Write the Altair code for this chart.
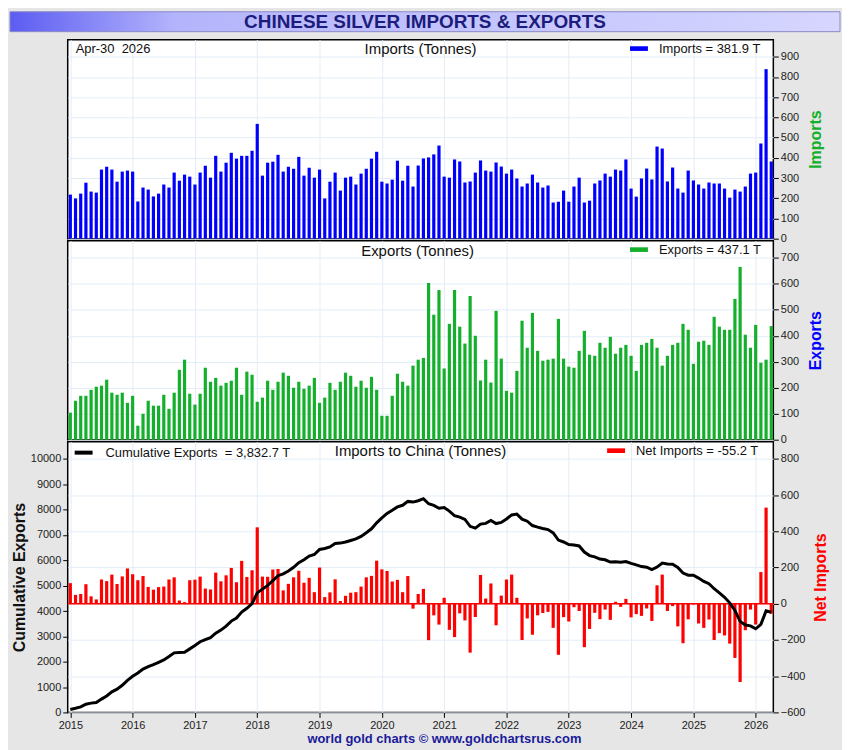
import altair as alt
import pandas as pd

# ---------------- data (monthly, Jan 2015 .. Apr 2026) ----------------
START_YEAR = 2015
imports = [
    218, 199, 223, 277, 233, 228, 342, 356, 342, 282, 332, 337,   # 2015
    332, 184, 253, 243, 209, 223, 268, 253, 327, 287, 317, 307,   # 2016
    268, 327, 361, 302, 410, 332, 376, 425, 396, 410, 410, 435,   # 2017
    568, 312, 376, 381, 415, 332, 356, 346, 405, 312, 351, 302,   # 2018
    342, 199, 282, 327, 238, 302, 307, 268, 322, 346, 396, 430,   # 2019
    282, 273, 292, 386, 287, 361, 258, 362, 397, 402, 417, 461,   # 2020
    307, 302, 392, 382, 278, 283, 327, 387, 337, 332, 377, 357,   # 2021
    322, 342, 298, 258, 273, 317, 278, 253, 263, 179, 183, 238,   # 2022
    183, 258, 302, 179, 188, 273, 288, 322, 307, 342, 337, 392,   # 2023
    248, 208, 298, 347, 293, 456, 446, 283, 352, 248, 228, 337,   # 2024
    288, 268, 248, 278, 273, 273, 248, 203, 243, 233, 258, 322,   # 2025
    327, 471, 839, 381.9,                                         # 2026
]
exports = [
    104, 150, 169, 169, 192, 204, 208, 231, 181, 173, 181, 142,   # 2015
    169, 54, 100, 150, 131, 131, 173, 119, 181, 269, 308, 177,    # 2016
    135, 177, 277, 223, 238, 208, 219, 227, 277, 173, 262, 250,   # 2017
    146, 162, 227, 192, 223, 258, 246, 200, 223, 196, 208, 238,   # 2018
    142, 162, 219, 192, 223, 258, 246, 204, 227, 200, 242, 192,   # 2019
    92, 92, 169, 254, 223, 208, 285, 308, 315, 603, 481, 576,     # 2020
    274, 446, 576, 435, 370, 553, 400, 228, 308, 220, 496, 312,   # 2021
    188, 181, 265, 458, 354, 488, 342, 304, 308, 312, 465, 312,   # 2022
    281, 277, 342, 419, 327, 323, 373, 354, 396, 331, 354, 365,   # 2023
    323, 265, 365, 373, 388, 354, 285, 323, 365, 373, 446, 423,   # 2024
    292, 377, 381, 365, 473, 435, 423, 423, 542, 665, 404, 354,   # 2025
    442, 296, 308, 437.1,                                         # 2026
]
year_ticks = list(range(2015, 2027))
imp_ticks = list(range(0, 901, 100))
exp_ticks = list(range(0, 701, 100))
cum_ticks = list(range(0, 10001, 1000))
net_ticks = list(range(-600, 801, 200))

TITLE = "CHINESE SILVER IMPORTS & EXPORTS"
DATE_TEXT = "Apr-30\u00a0 2026"
FOOTER = "world gold charts \u00a9 www.goldchartsrus.com"
IMP_LABEL = "Imports = 381.9 T"
EXP_LABEL = "Exports = 437.1 T"
CUM_LABEL = "Cumulative Exports\u00a0 = 3,832.7 T"
NET_LABEL = "Net Imports = -55.2 T"

t = [START_YEAR + i / 12 for i in range(len(imports))]
df = pd.DataFrame({"t": t, "imports": imports, "exports": exports})

# ---------------- styling ----------------
W = 709
X_DOMAIN = [2014.958, 2026.283]
GRID = "#e3edf7"
BLUE = "#0000ff"
GREEN = "#14b02c"
RED = "#ff0000"
BG = "#e6e6e6"
RECT_PATH = "M-1,-0.26L1,-0.26L1,0.26L-1,0.26Z"


def x_enc(labels):
    return alt.X(
        "t:Q",
        scale=alt.Scale(domain=X_DOMAIN, nice=False, zero=False, padding=0),
        axis=alt.Axis(values=year_ticks, format="d", title=None, grid=True,
                      gridColor=GRID, gridWidth=1, domain=False, labels=labels,
                      ticks=labels, tickSize=5, tickColor="black",
                      labelFontSize=11, labelColor="#222", labelPadding=2,
                      labelFlush=False),
    )


def y_axis(orient, title, color, values, grid=True, pad=8):
    return alt.Axis(orient=orient, values=values, format="d", title=title,
                    titleColor=color, titleFontSize=16, titleFontWeight="bold",
                    titleAngle=270, titlePadding=pad, grid=grid, gridColor=GRID,
                    gridWidth=1, domain=False, tickSize=5, tickColor="black",
                    labelFontSize=11, labelColor="#222", labelPadding=2,
                    labelFlush=False)


def legend(x, kind="bar"):
    if kind == "bar":
        return alt.Legend(orient="none", legendX=x, legendY=0, title=None,
                          symbolType=RECT_PATH, symbolSize=324,
                          symbolStrokeWidth=0, labelFontSize=13,
                          labelColor="#111", labelOffset=11, padding=0,
                          labelLimit=300)
    return alt.Legend(orient="none", legendX=x, legendY=0, title=None,
                      symbolType="stroke", symbolSize=324, symbolStrokeWidth=4,
                      labelFontSize=13, labelColor="#111", labelOffset=11,
                      padding=0, labelLimit=300)


def text_mark(txt, x, y, size=15, weight="normal", color="#111", align="center"):
    return alt.Chart(pd.DataFrame({"txt": [txt]})).mark_text(
        fontSize=size, fontWeight=weight, color=color, align=align,
        baseline="middle").encode(x=alt.value(x), y=alt.value(y), text="txt:N")


base = alt.Chart(df)

# ---------------- title bar ----------------
grad = {"gradient": "linear", "x1": 0, "x2": 1, "y1": 0, "y2": 0,
        "stops": [{"offset": 0, "color": "#5c5cf2"},
                  {"offset": 0.2, "color": "#b4b4fc"},
                  {"offset": 1, "color": "#d6d6ff"}]}
title_rect = alt.Chart(pd.DataFrame({"txt": [TITLE]})).mark_rect(
    fill=grad, stroke="#8a8ac8", strokeWidth=1).encode(
    x=alt.value(-58), x2=alt.value(776), y=alt.value(0), y2=alt.value(20))
title_chart = alt.layer(
    title_rect,
    text_mark(TITLE, 359, 10.5, size=19, weight="bold", color="#1c1c7c"),
).properties(width=W, height=26,
             view=alt.ViewBackground(fill="transparent", stroke="transparent"))

# ---------------- imports ----------------
imp_bars = base.transform_calculate(series=f"'{IMP_LABEL}'").mark_bar(size=3.2).encode(
    x=x_enc(False),
    y=alt.Y("imports:Q", scale=alt.Scale(domain=[0, 985], nice=False, padding=0),
            axis=y_axis("right", "Imports", GREEN, imp_ticks, pad=25)),
    color=alt.Color("series:N", scale=alt.Scale(domain=[IMP_LABEL], range=[BLUE]),
                    legend=legend(565)),
)
imp_chart = alt.layer(
    imp_bars,
    text_mark("Imports (Tonnes)", W / 2, 9),
    text_mark(DATE_TEXT, 8, 9.5, size=13, align="left"),
).properties(width=W, height=200)

# ---------------- exports ----------------
exp_bars = base.transform_calculate(series=f"'{EXP_LABEL}'").mark_bar(size=3.2).encode(
    x=x_enc(False),
    y=alt.Y("exports:Q", scale=alt.Scale(domain=[0, 766], nice=False, padding=0),
            axis=y_axis("right", "Exports", BLUE, exp_ticks, pad=25)),
    color=alt.Color("series:N", scale=alt.Scale(domain=[EXP_LABEL], range=[GREEN]),
                    legend=legend(565)),
)
exp_chart = alt.layer(
    exp_bars,
    text_mark("Exports (Tonnes)", W / 2 - 3, 10),
).properties(width=W, height=200)

# ---------------- net imports + cumulative ----------------
net_scale = alt.Scale(domain=[-600, 895], nice=False, padding=0)
net_axis = y_axis("right", "Net Imports", RED, net_ticks, pad=24)
net_bars = base.transform_calculate(
    net="datum.imports - datum.exports", series=f"'{NET_LABEL}'"
).mark_bar(size=3.2).encode(
    x=x_enc(True),
    y=alt.Y("net:Q", scale=net_scale, axis=net_axis),
    color=alt.Color("series:N", scale=alt.Scale(domain=[NET_LABEL], range=[RED]),
                    legend=legend(542)),
)
zero_rule = alt.Chart(pd.DataFrame({"net": [0]})).mark_rule(
    color=RED, strokeWidth=1.5).encode(y=alt.Y("net:Q", scale=net_scale, axis=net_axis))

cum_line = base.transform_calculate(
    net="datum.imports - datum.exports", series=f"'{CUM_LABEL}'"
).transform_window(
    cum="sum(net)", sort=[alt.SortField("t")]
).mark_line(strokeWidth=3).encode(
    x=x_enc(True),
    y=alt.Y("cum:Q", scale=alt.Scale(domain=[0, 10680], nice=False, padding=0),
            axis=y_axis("left", "Cumulative Exports", "#111", cum_ticks,
                        grid=False, pad=3)),
    color=alt.Color("series:N", scale=alt.Scale(domain=[CUM_LABEL], range=["black"]),
                    legend=legend(5, kind="line")),
)

bottom = alt.layer(
    alt.layer(net_bars, zero_rule),
    cum_line,
    text_mark("Imports to China (Tonnes)", W / 2, 9),
    text_mark(FOOTER, 378.5, 299, size=13, weight="bold", color="#1a1a9a"),
).resolve_scale(y="independent", color="independent").resolve_legend(
    color="independent").properties(width=W, height=272)

chart = alt.vconcat(
    title_chart, imp_chart, exp_chart, bottom, spacing=2, bounds="flush"
).resolve_scale(y="independent", color="independent").resolve_legend(
    color="independent"
).properties(
    padding={"left": 0, "top": 0, "right": 0, "bottom": 2}
).configure(
    background=BG, font="Liberation Sans"
).configure_view(
    fill="white", stroke="black", strokeWidth=1.5
)

chart.save("out.html", embed_options={"renderer": "svg", "actions": False})
